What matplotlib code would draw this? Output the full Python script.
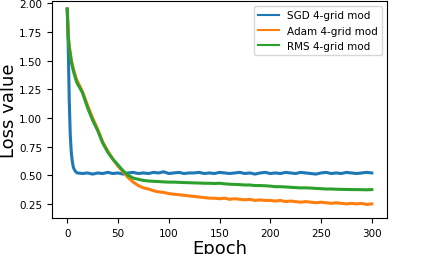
import matplotlib
matplotlib.use('Agg')
import matplotlib.pyplot as plt

# epochs shared by the three curves: dense at start, every 5 after
epochs = list(range(0, 11)) + list(range(15, 301, 5))

sgd = [1.95, 1.62, 1.15, 0.85, 0.70, 0.62, 0.57, 0.55, 0.535, 0.525, 0.52,
       0.515, 0.52, 0.51, 0.52, 0.515, 0.525, 0.515, 0.52, 0.51, 0.52,
       0.525, 0.515, 0.52, 0.515, 0.525, 0.52, 0.53, 0.515, 0.52, 0.525,
       0.515, 0.52, 0.52, 0.525, 0.515, 0.52, 0.515, 0.525, 0.52, 0.515,
       0.52, 0.525, 0.515, 0.52, 0.51, 0.52, 0.525, 0.515, 0.52, 0.515,
       0.525, 0.52, 0.515, 0.525, 0.52, 0.515, 0.51, 0.52, 0.525, 0.515,
       0.52, 0.515, 0.525, 0.52, 0.515, 0.52, 0.525, 0.52]

adam = [1.95, 1.72, 1.63, 1.57, 1.51, 1.47, 1.43, 1.40, 1.37, 1.34, 1.32,
        1.23, 1.11, 1.00, 0.90, 0.79, 0.71, 0.64, 0.58, 0.53, 0.48,
        0.44, 0.41, 0.39, 0.38, 0.365, 0.355, 0.35, 0.34, 0.335, 0.33,
        0.325, 0.32, 0.315, 0.31, 0.305, 0.30, 0.30, 0.295, 0.30, 0.29,
        0.295, 0.29, 0.285, 0.29, 0.28, 0.285, 0.28, 0.28, 0.275, 0.28,
        0.27, 0.275, 0.27, 0.265, 0.27, 0.265, 0.26, 0.265, 0.26, 0.255,
        0.26, 0.255, 0.25, 0.255, 0.25, 0.255, 0.245, 0.25]

rms = [1.95, 1.71, 1.61, 1.55, 1.49, 1.45, 1.41, 1.38, 1.35, 1.32, 1.30,
       1.22, 1.09, 0.98, 0.89, 0.78, 0.70, 0.64, 0.59, 0.54, 0.50,
       0.475, 0.465, 0.455, 0.45, 0.447, 0.445, 0.442, 0.44, 0.44, 0.438,
       0.436, 0.435, 0.433, 0.432, 0.43, 0.43, 0.428, 0.43, 0.425, 0.422,
       0.42, 0.418, 0.415, 0.415, 0.41, 0.41, 0.408, 0.405, 0.40, 0.40,
       0.398, 0.395, 0.392, 0.39, 0.39, 0.388, 0.385, 0.383, 0.38, 0.38,
       0.378, 0.377, 0.376, 0.375, 0.375, 0.374, 0.373, 0.375]

fig = plt.figure(figsize=(4.3, 2.55), dpi=100)
ax = fig.add_axes([52/430, 36/255, 335/430, 217/255])

ax.plot(epochs, sgd, color='#1f77b4', linewidth=2.2, label='SGD 4-grid mod')
ax.plot(epochs, adam, color='#ff7f0e', linewidth=2.2, label='Adam 4-grid mod')
ax.plot(epochs, rms, color='#2ca02c', linewidth=2.2, label='RMS 4-grid mod')

ax.set_xlim(-15, 315)
ax.set_ylim(0.127, 2.02)
ax.set_xticks(range(0, 301, 50))
ax.set_yticks([0.25, 0.5, 0.75, 1.0, 1.25, 1.5, 1.75, 2.0])
ax.tick_params(labelsize=7.5)
ax.set_xlabel('Epoch', fontsize=13, labelpad=1)
ax.set_ylabel('Loss value', fontsize=13, labelpad=0.5)
leg = ax.legend(loc='upper right', fontsize=7.5)
for line in leg.get_lines():
    line.set_linewidth(1.5)

fig.savefig('out.png', dpi=100)
